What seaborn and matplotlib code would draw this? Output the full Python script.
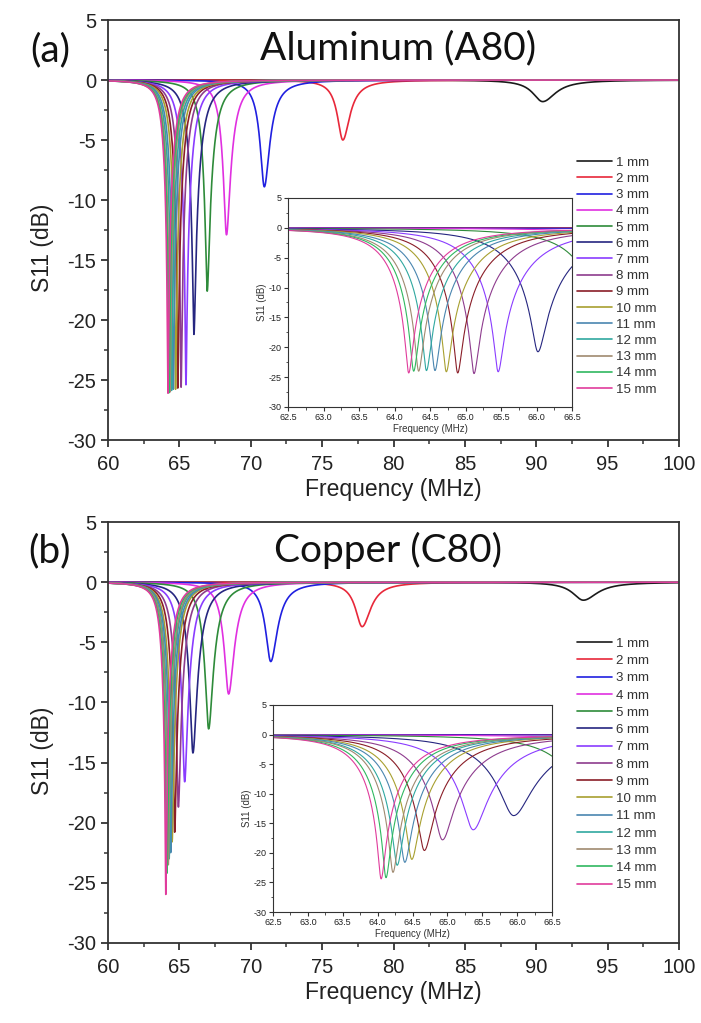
import numpy as np
import pandas as pd
import seaborn as sns
import matplotlib
matplotlib.use("Agg")
from matplotlib import pyplot as plt
from matplotlib.ticker import MultipleLocator

# gap sizes (legend labels)
gaps = ["1 mm", "2 mm", "3 mm", "4 mm", "5 mm", "6 mm", "7 mm", "8 mm",
        "9 mm", "10 mm", "11 mm", "12 mm", "13 mm", "14 mm", "15 mm"]

colors = ["#1a1a1a", "#e8283a", "#2020e0", "#e030e0", "#2e8b3a", "#262680",
          "#8a3cff", "#8e3c8e", "#8a1e28", "#a8a030", "#4a86b0", "#30a8a0",
          "#a08a70", "#30b860", "#e03c9c"]

# resonance: centre (MHz), depth (dB), half width (MHz)
al_f0 = [90.45, 76.45, 70.95, 68.3, 66.95, 66.02, 65.46, 65.12, 64.89, 64.73,
         64.57, 64.45, 64.34, 64.27, 64.2]
al_depth = [-1.8, -5.0, -8.9, -12.9, -17.6, -21.2, -25.4, -25.6, -25.7, -25.8,
            -25.8, -25.9, -26.0, -26.1, -26.1]
al_depth_inset = [-1.8, -5.0, -8.9, -12.9, -17.6, -20.75, -24.1, -24.4, -24.3,
                  -24.1, -23.9, -23.9, -24.0, -24.0, -24.3]
al_hw = [0.95, 0.62, 0.62, 0.62, 0.65, 0.7, 0.66, 0.63, 0.61, 0.6, 0.59,
         0.58, 0.57, 0.56, 0.55]

cu_f0 = [93.3, 77.8, 71.4, 68.45, 67.05, 65.95, 65.37, 64.93, 64.67, 64.49,
         64.39, 64.28, 64.22, 64.12, 64.05]
cu_depth = [-1.5, -3.7, -6.6, -9.3, -12.2, -14.2, -16.6, -18.7, -20.8, -21.6,
            -22.5, -23.0, -23.5, -24.2, -26.0]
cu_depth_inset = [-1.5, -3.7, -6.6, -9.3, -12.2, -13.7, -16.1, -17.8, -19.6,
                  -21.1, -21.6, -22.1, -23.3, -24.2, -24.4]
cu_hw = [1.0, 0.7, 0.66, 0.66, 0.68, 0.72, 0.68, 0.65, 0.62, 0.6, 0.59,
         0.58, 0.57, 0.56, 0.55]


def s11_curve(f, f0, depth, hw, skew=1.3):
    w = np.where(f < f0, hw, hw * skew)
    x = (f - f0) / w
    r2 = 10 ** (depth / 10)
    return 10 * np.log10((r2 + x ** 2) / (1 + x ** 2))


def build(freq, f0s, depths, hws):
    rows = []
    for lab, f0, d, hw in zip(gaps, f0s, depths, hws):
        rows.append(pd.DataFrame({"f": freq, "s11": s11_curve(freq, f0, d, hw), "gap": lab}))
    return pd.concat(rows, ignore_index=True)


sns.set_style("ticks")
plt.rcParams["font.family"] = ["Liberation Sans", "DejaVu Sans"]
plt.rcParams["axes.unicode_minus"] = False

W, H = 701, 1023
fig = plt.figure(figsize=(W / 100, H / 100), dpi=100)
fig.patch.set_facecolor("white")


def style_axes(ax, big=True):
    for s in ax.spines.values():
        s.set_color("#333333")
        s.set_linewidth(1.3 if big else 0.8)
    ax.tick_params(which="both", direction="out", top=False, right=False,
                   colors="#333333", labelcolor="#222222")
    if big:
        ax.tick_params(which="major", length=5, width=1.3, labelsize=14.5)
        ax.tick_params(which="minor", length=3, width=1.1)
        ax.tick_params(axis="x", which="major", pad=6)
    else:
        ax.tick_params(which="major", length=3, width=0.8, labelsize=6.5, pad=1.5)
        ax.tick_params(which="minor", length=1.8, width=0.6)


def main_panel(rect, f0s, depths, hws, tag, title, legend_top, spacing):
    ax = fig.add_axes(rect)
    freq = np.linspace(60, 100, 6000)
    df = build(freq, f0s, depths, hws)
    sns.lineplot(data=df, x="f", y="s11", hue="gap", hue_order=gaps,
                 palette=colors, linewidth=1.2, estimator=None, sort=False,
                 legend=False, ax=ax)
    ax.set_xlim(60, 100)
    ax.set_ylim(-30, 5)
    ax.xaxis.set_major_locator(MultipleLocator(5))
    ax.xaxis.set_minor_locator(MultipleLocator(2.5))
    ax.yaxis.set_major_locator(MultipleLocator(5))
    ax.yaxis.set_minor_locator(MultipleLocator(2.5))
    ax.set_xlabel("Frequency (MHz)", fontsize=16.5, color="#222222", labelpad=3)
    ax.set_ylabel("S11 (dB)", fontsize=16.5, color="#222222")
    ax.yaxis.set_label_coords(-0.094, 0.457)
    style_axes(ax, True)
    ax.legend(ax.get_lines(), gaps, loc="upper left",
              bbox_to_anchor=(570 / W, 1 - legend_top / H),
              bbox_transform=fig.transFigure, frameon=False, fontsize=9.5,
              handlelength=2.7, handletextpad=0.3, labelspacing=spacing,
              labelcolor="#333333", borderpad=0)
    fig.text(50 / W, 1 - tag[1] / H, tag[0], fontsize=28, family="Lato",
             ha="center", va="center", color="#111111")
    fig.text(title[1] / W, 1 - title[2] / H, title[0], fontsize=28, family="Lato",
             ha="center", va="center", color="#111111")
    return ax


def inset_panel(rect, f0s, depths, hws):
    ax = fig.add_axes(rect)
    ax.set_facecolor("white")
    freq = np.linspace(62.5, 66.5, 2000)
    df = build(freq, f0s, depths, hws)
    sns.lineplot(data=df, x="f", y="s11", hue="gap", hue_order=gaps,
                 palette=colors, linewidth=0.8, estimator=None, sort=False,
                 legend=False, ax=ax)
    ax.set_xlim(62.5, 66.5)
    ax.set_ylim(-30, 5)
    ax.xaxis.set_major_locator(MultipleLocator(0.5))
    ax.xaxis.set_minor_locator(MultipleLocator(0.25))
    ax.yaxis.set_major_locator(MultipleLocator(5))
    ax.yaxis.set_minor_locator(MultipleLocator(2.5))
    ax.set_xlabel("Frequency (MHz)", fontsize=7, color="#333333", labelpad=1)
    ax.set_ylabel("S11 (dB)", fontsize=7, color="#333333", labelpad=1)
    style_axes(ax, False)
    return ax


main_panel([108 / W, 1 - 440 / H, 571 / W, 420 / H], al_f0, al_depth, al_hw,
           ("(a)", 50), ("Aluminum (A80)", 398, 48), 150, 0.3)
inset_panel([288 / W, 1 - 407 / H, 284 / W, 209 / H], al_f0, al_depth_inset, al_hw)

main_panel([108 / W, 1 - 943 / H, 571 / W, 421 / H], cu_f0, cu_depth, cu_hw,
           ("(b)", 551), ("Copper (C80)", 388, 550), 631, 0.38)
inset_panel([273 / W, 1 - 912 / H, 279 / W, 207 / H], cu_f0, cu_depth_inset, cu_hw)

fig.savefig("out.png", dpi=100, facecolor="white")
